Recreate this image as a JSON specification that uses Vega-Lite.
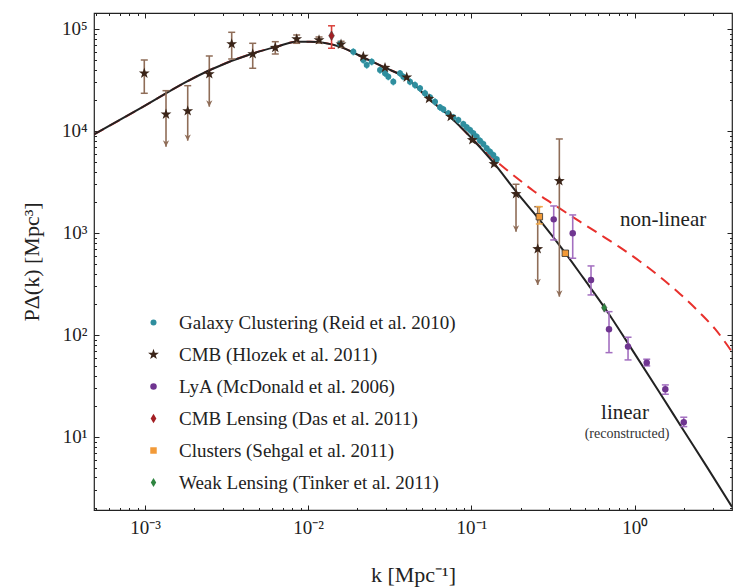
{
  "$schema": "https://vega.github.io/schema/vega-lite/v6.json",
  "width": 638,
  "height": 497,
  "autosize": {"type": "none"},
  "padding": {"left": 94, "top": 13, "right": 4, "bottom": 77},
  "background": "white",
  "config": {
    "view": {"stroke": "#222", "strokeWidth": 1.2},
    "axis": {"grid": false, "domain": false, "labelFont": "Liberation Serif", "labelFontSize": 19, "labelColor": "#222", "tickColor": "#222", "tickWidth": 1, "titleFont": "Liberation Serif", "titleFontWeight": "normal", "titleColor": "#222", "titleFontSize": 22}
  },
  "resolve": {"axis": {"x": "independent", "y": "independent"}},
  "datasets": {
    "linear": [
      {"k": 0.000487, "P": 9250}, {"k": 0.000976, "P": 17300}, {"k": 0.0018, "P": 30440}, {"k": 0.0025, "P": 39630},
      {"k": 0.00461, "P": 57800}, {"k": 0.00641, "P": 67070}, {"k": 0.0085, "P": 75080}, {"k": 0.01026, "P": 75080},
      {"k": 0.01237, "P": 73400}, {"k": 0.01566, "P": 67070}, {"k": 0.02176, "P": 52560}, {"k": 0.02955, "P": 41750},
      {"k": 0.04015, "P": 32860}, {"k": 0.05443, "P": 20920}, {"k": 0.07393, "P": 13810}, {"k": 0.1004, "P": 8480},
      {"k": 0.1362, "P": 4911}, {"k": 0.1895, "P": 2500}, {"k": 0.2632, "P": 1329}, {"k": 0.3746, "P": 641},
      {"k": 0.485, "P": 362}, {"k": 0.6585, "P": 182.7}, {"k": 0.982, "P": 68.6}, {"k": 1.431, "P": 26.8},
      {"k": 1.988, "P": 11.71}, {"k": 2.766, "P": 5.11}, {"k": 3.953, "P": 2.06}
    ],
    "nonlinear": [
      {"k": 0.000487, "P": 9250}, {"k": 0.000976, "P": 17300}, {"k": 0.0018, "P": 30440}, {"k": 0.0025, "P": 39630},
      {"k": 0.00461, "P": 57800}, {"k": 0.00641, "P": 67070}, {"k": 0.0085, "P": 75080}, {"k": 0.01026, "P": 75080},
      {"k": 0.01237, "P": 73400}, {"k": 0.01566, "P": 67070}, {"k": 0.02176, "P": 52560}, {"k": 0.02955, "P": 41750},
      {"k": 0.04015, "P": 32860}, {"k": 0.05443, "P": 20920}, {"k": 0.07393, "P": 13810}, {"k": 0.1004, "P": 8480},
      {"k": 0.1246, "P": 6045}, {"k": 0.1724, "P": 3918}, {"k": 0.2384, "P": 2611}, {"k": 0.3346, "P": 1810},
      {"k": 0.4627, "P": 1290}, {"k": 0.6138, "P": 966.7}, {"k": 0.8137, "P": 720.9}, {"k": 1.079, "P": 525.5},
      {"k": 1.431, "P": 370.3}, {"k": 1.897, "P": 252.4}, {"k": 2.516, "P": 164.3}, {"k": 3.109, "P": 114.5},
      {"k": 3.953, "P": 68.1}
    ],
    "pts": [
      {"series": "Galaxy Clustering (Reid et al. 2010)", "k": 0.01566, "P": 71290, "lo": 65600, "hi": 77000},
      {"series": "Galaxy Clustering (Reid et al. 2010)", "k": 0.0189, "P": 59930, "lo": 55100, "hi": 64700},
      {"series": "Galaxy Clustering (Reid et al. 2010)", "k": 0.02176, "P": 49660, "lo": 45700, "hi": 53600},
      {"series": "Galaxy Clustering (Reid et al. 2010)", "k": 0.02283, "P": 44360, "lo": 40800, "hi": 47900},
      {"series": "Galaxy Clustering (Reid et al. 2010)", "k": 0.02449, "P": 47800, "lo": 44000, "hi": 51600},
      {"series": "Galaxy Clustering (Reid et al. 2010)", "k": 0.02754, "P": 39630, "lo": 36500, "hi": 42800},
      {"series": "Galaxy Clustering (Reid et al. 2010)", "k": 0.02955, "P": 36790, "lo": 33800, "hi": 39700},
      {"series": "Galaxy Clustering (Reid et al. 2010)", "k": 0.03096, "P": 34080, "lo": 31400, "hi": 36800},
      {"series": "Galaxy Clustering (Reid et al. 2010)", "k": 0.03322, "P": 30440, "lo": 28000, "hi": 32900},
      {"series": "Galaxy Clustering (Reid et al. 2010)", "k": 0.03651, "P": 36790, "lo": 33800, "hi": 39700},
      {"series": "Galaxy Clustering (Reid et al. 2010)", "k": 0.03825, "P": 34080, "lo": 31400, "hi": 36800},
      {"series": "Galaxy Clustering (Reid et al. 2010)", "k": 0.04205, "P": 30440, "lo": 28000, "hi": 32900},
      {"series": "Galaxy Clustering (Reid et al. 2010)", "k": 0.04512, "P": 28250, "lo": 26000, "hi": 30500},
      {"series": "Galaxy Clustering (Reid et al. 2010)", "k": 0.04842, "P": 26220, "lo": 24100, "hi": 28300},
      {"series": "Galaxy Clustering (Reid et al. 2010)", "k": 0.05196, "P": 23420, "lo": 21500, "hi": 25300},
      {"series": "Galaxy Clustering (Reid et al. 2010)", "k": 0.05577, "P": 21400, "lo": 19700, "hi": 23100},
      {"series": "Galaxy Clustering (Reid et al. 2010)", "k": 0.05984, "P": 19380, "lo": 17800, "hi": 20900},
      {"series": "Galaxy Clustering (Reid et al. 2010)", "k": 0.06422, "P": 17080, "lo": 15700, "hi": 18400},
      {"series": "Galaxy Clustering (Reid et al. 2010)", "k": 0.06727, "P": 16320, "lo": 15000, "hi": 17600},
      {"series": "Galaxy Clustering (Reid et al. 2010)", "k": 0.07217, "P": 14910, "lo": 13700, "hi": 16100},
      {"series": "Galaxy Clustering (Reid et al. 2010)", "k": 0.07745, "P": 13620, "lo": 12500, "hi": 14700},
      {"series": "Galaxy Clustering (Reid et al. 2010)", "k": 0.08312, "P": 12820, "lo": 11800, "hi": 13800},
      {"series": "Galaxy Clustering (Reid et al. 2010)", "k": 0.0892, "P": 11710, "lo": 10800, "hi": 12600},
      {"series": "Galaxy Clustering (Reid et al. 2010)", "k": 0.09359, "P": 10870, "lo": 10000, "hi": 11700},
      {"series": "Galaxy Clustering (Reid et al. 2010)", "k": 0.09804, "P": 10230, "lo": 9410, "hi": 11000},
      {"series": "Galaxy Clustering (Reid et al. 2010)", "k": 0.1027, "P": 9495, "lo": 8740, "hi": 10250},
      {"series": "Galaxy Clustering (Reid et al. 2010)", "k": 0.1078, "P": 8793, "lo": 8090, "hi": 9500},
      {"series": "Galaxy Clustering (Reid et al. 2010)", "k": 0.1129, "P": 8032, "lo": 7390, "hi": 8670},
      {"series": "Galaxy Clustering (Reid et al. 2010)", "k": 0.1183, "P": 7456, "lo": 6860, "hi": 8050},
      {"series": "Galaxy Clustering (Reid et al. 2010)", "k": 0.1241, "P": 6767, "lo": 6230, "hi": 7310},
      {"series": "Galaxy Clustering (Reid et al. 2010)", "k": 0.13, "P": 6266, "lo": 5760, "hi": 6770},
      {"series": "Galaxy Clustering (Reid et al. 2010)", "k": 0.1362, "P": 5816, "lo": 5350, "hi": 6280},
      {"series": "Galaxy Clustering (Reid et al. 2010)", "k": 0.1429, "P": 5279, "lo": 4860, "hi": 5700},
      {"series": "CMB (Hlozek et al. 2011)", "k": 0.00099, "P": 36790, "lo": 23420, "hi": 49660, "lim": false},
      {"series": "CMB (Hlozek et al. 2011)", "k": 0.001345, "P": 14580, "lo": 7018, "hi": 24840, "lim": true},
      {"series": "CMB (Hlozek et al. 2011)", "k": 0.001827, "P": 15700, "lo": 8032, "hi": 27810, "lim": true},
      {"series": "CMB (Hlozek et al. 2011)", "k": 0.002477, "P": 36220, "lo": 17310, "hi": 54360, "lim": true},
      {"series": "CMB (Hlozek et al. 2011)", "k": 0.003398, "P": 71290, "lo": 50810, "hi": 92820, "lim": false},
      {"series": "CMB (Hlozek et al. 2011)", "k": 0.004571, "P": 56870, "lo": 41190, "hi": 72410, "lim": false},
      {"series": "CMB (Hlozek et al. 2011)", "k": 0.006285, "P": 65570, "lo": 56870, "hi": 75080, "lim": false},
      {"series": "CMB (Hlozek et al. 2011)", "k": 0.0085, "P": 79800, "lo": 72410, "hi": 87340, "lim": false},
      {"series": "CMB (Hlozek et al. 2011)", "k": 0.01165, "P": 78020, "lo": 72900, "hi": 83480, "lim": false},
      {"series": "CMB (Hlozek et al. 2011)", "k": 0.01589, "P": 70790, "lo": 66160, "hi": 75750, "lim": false},
      {"series": "CMB (Hlozek et al. 2011)", "k": 0.02176, "P": 53760},
      {"series": "CMB (Hlozek et al. 2011)", "k": 0.02955, "P": 41750},
      {"series": "CMB (Hlozek et al. 2011)", "k": 0.04015, "P": 33610},
      {"series": "CMB (Hlozek et al. 2011)", "k": 0.05497, "P": 20740},
      {"series": "CMB (Hlozek et al. 2011)", "k": 0.07466, "P": 13810},
      {"series": "CMB (Hlozek et al. 2011)", "k": 0.1013, "P": 8162},
      {"series": "CMB (Hlozek et al. 2011)", "k": 0.1375, "P": 4748},
      {"series": "CMB (Hlozek et al. 2011)", "k": 0.1876, "P": 2412, "lo": 1030, "hi": 3002, "lim": true},
      {"series": "CMB (Hlozek et al. 2011)", "k": 0.2548, "P": 696.7, "lo": 309, "hi": 1810, "lim": true},
      {"series": "CMB (Hlozek et al. 2011)", "k": 0.3457, "P": 3234, "lo": 237.4, "hi": 8348, "lim": true},
      {"series": "LyA (McDonald et al. 2006)", "k": 0.3193, "P": 1359, "lo": 854, "hi": 1839, "lim": false},
      {"series": "LyA (McDonald et al. 2006)", "k": 0.4175, "P": 993.5, "lo": 565, "hi": 1502, "lim": false},
      {"series": "LyA (McDonald et al. 2006)", "k": 0.5405, "P": 346, "lo": 246.7, "hi": 474.9, "lim": false},
      {"series": "LyA (McDonald et al. 2006)", "k": 0.6967, "P": 113.7, "lo": 67.05, "hi": 169.2, "lim": false},
      {"series": "LyA (McDonald et al. 2006)", "k": 0.9112, "P": 76.8, "lo": 56.87, "hi": 94.95, "lim": false},
      {"series": "LyA (McDonald et al. 2006)", "k": 1.186, "P": 53.5, "lo": 49.7, "hi": 57.8, "lim": false},
      {"series": "LyA (McDonald et al. 2006)", "k": 1.542, "P": 29.35, "lo": 26.22, "hi": 32.35, "lim": false},
      {"series": "LyA (McDonald et al. 2006)", "k": 2.0, "P": 13.94, "lo": 12.62, "hi": 15.6, "lim": false},
      {"series": "CMB Lensing (Das et al. 2011)", "k": 0.0139, "P": 85990, "lo": 64700, "hi": 107500, "lim": false},
      {"series": "Clusters (Sehgal et al. 2011)", "k": 0.2607, "P": 1444, "lo": 1225, "hi": 1810, "lim": false},
      {"series": "Clusters (Sehgal et al. 2011)", "k": 0.3762, "P": 632.4, "lo": 600, "hi": 665, "lim": false},
      {"series": "Weak Lensing (Tinker et al. 2011)", "k": 0.6512, "P": 185.1}
    ],
    "notes": [
      {"label": "non-linear", "k": 1.493, "P": 1340},
      {"label": "linear", "k": 0.8733, "P": 17.2},
      {"label": "(reconstructed)", "k": 0.898, "P": 10.8}
    ]
  },
  "layer": [
    {
      "data": {"name": "nonlinear"},
      "mark": {"type": "line", "color": "#e8302c", "strokeWidth": 2, "strokeDash": [11, 7], "interpolate": "monotone", "clip": true},
      "encoding": {
        "x": {"field": "k", "type": "quantitative", "scale": {"type": "log", "domain": [0.000487, 3.95], "nice": false},
          "axis": {"orient": "bottom", "values": [0.001, 0.01, 0.1, 1], "tickSize": -5, "labelPadding": 13,
            "labelExpr": "round(log(datum.value)/LN10) == -3 ? '10⁻³' : round(log(datum.value)/LN10) == -2 ? '10⁻²' : round(log(datum.value)/LN10) == -1 ? '10⁻¹' : '10⁰'",
            "title": "k [Mpc⁻¹]", "titlePadding": 27}},
        "y": {"field": "P", "type": "quantitative", "scale": {"type": "log", "domain": [1.92, 143500], "nice": false},
          "axis": {"orient": "left", "values": [10, 100, 1000, 10000, 100000], "tickSize": -5, "labelPadding": 12,
            "labelExpr": "round(log(datum.value)/LN10) == 1 ? '10¹' : round(log(datum.value)/LN10) == 2 ? '10²' : round(log(datum.value)/LN10) == 3 ? '10³' : round(log(datum.value)/LN10) == 4 ? '10⁴' : '10⁵'",
            "title": "PΔ(k) [Mpc³]", "titlePadding": 18}}
      }
    },
    {
      "data": {"name": "linear"},
      "mark": {"type": "line", "color": "#222", "strokeWidth": 2, "interpolate": "monotone", "clip": true},
      "encoding": {
        "x": {"field": "k", "type": "quantitative", "axis": {"orient": "top", "values": [0.001, 0.01, 0.1, 1], "tickSize": -5, "labels": false, "title": null}},
        "y": {"field": "P", "type": "quantitative", "axis": {"orient": "right", "values": [10, 100, 1000, 10000, 100000], "tickSize": -5, "labels": false, "title": null}}
      }
    },
    {
      "data": {"name": "pts"},
      "transform": [{"filter": "isValid(datum.lo)"}],
      "mark": {"type": "rule", "strokeWidth": 1.6},
      "encoding": {
        "x": {"field": "k", "type": "quantitative", "axis": {"orient": "bottom", "values": [0.0005, 0.0006, 0.0007, 0.0008, 0.0009, 0.002, 0.003, 0.004, 0.005, 0.006, 0.007, 0.008, 0.009, 0.02, 0.03, 0.04, 0.05, 0.06, 0.07, 0.08, 0.09, 0.2, 0.3, 0.4, 0.5, 0.6, 0.7, 0.8, 0.9, 2, 3], "tickSize": -2.5, "labels": false, "title": null}},
        "y": {"field": "lo", "type": "quantitative", "axis": {"orient": "left", "values": [2, 3, 4, 5, 6, 7, 8, 9, 20, 30, 40, 50, 60, 70, 80, 90, 200, 300, 400, 500, 600, 700, 800, 900, 2000, 3000, 4000, 5000, 6000, 7000, 8000, 9000, 20000, 30000, 40000, 50000, 60000, 70000, 80000, 90000], "tickSize": -2.5, "labels": false, "title": null}},
        "y2": {"field": "hi"},
        "stroke": {"field": "series", "type": "nominal", "legend": null,
          "scale": {"domain": ["CMB (Hlozek et al. 2011)", "CMB Lensing (Das et al. 2011)", "Clusters (Sehgal et al. 2011)", "Galaxy Clustering (Reid et al. 2010)", "LyA (McDonald et al. 2006)", "Weak Lensing (Tinker et al. 2011)"],
            "range": ["#8f6d58", "#d9403a", "#f0a848", "#40b0bd", "#a36fc0", "#3a8a48"]}}
      }
    },
    {
      "data": {"name": "pts"},
      "transform": [{"filter": "isValid(datum.hi) && datum.series !== 'Galaxy Clustering (Reid et al. 2010)'"}],
      "mark": {"type": "point", "shape": "M-1,0L1,0", "size": 49, "filled": false, "strokeWidth": 1.5, "opacity": 1},
      "encoding": {
        "x": {"field": "k", "type": "quantitative", "axis": {"orient": "top", "values": [0.0005, 0.0006, 0.0007, 0.0008, 0.0009, 0.002, 0.003, 0.004, 0.005, 0.006, 0.007, 0.008, 0.009, 0.02, 0.03, 0.04, 0.05, 0.06, 0.07, 0.08, 0.09, 0.2, 0.3, 0.4, 0.5, 0.6, 0.7, 0.8, 0.9, 2, 3], "tickSize": -2.5, "labels": false, "title": null}},
        "y": {"field": "hi", "type": "quantitative", "axis": {"orient": "right", "values": [2, 3, 4, 5, 6, 7, 8, 9, 20, 30, 40, 50, 60, 70, 80, 90, 200, 300, 400, 500, 600, 700, 800, 900, 2000, 3000, 4000, 5000, 6000, 7000, 8000, 9000, 20000, 30000, 40000, 50000, 60000, 70000, 80000, 90000], "tickSize": -2.5, "labels": false, "title": null}},
        "stroke": {"field": "series", "type": "nominal", "legend": null}
      }
    },
    {
      "data": {"name": "pts"},
      "transform": [{"filter": "isValid(datum.lo) && datum.lim === false"}],
      "mark": {"type": "point", "shape": "M-1,0L1,0", "size": 49, "filled": false, "strokeWidth": 1.5, "opacity": 1},
      "encoding": {
        "x": {"field": "k", "type": "quantitative", "axis": null},
        "y": {"field": "lo", "type": "quantitative", "axis": null},
        "stroke": {"field": "series", "type": "nominal", "legend": null}
      }
    },
    {
      "data": {"name": "pts"},
      "transform": [{"filter": "datum.lim === true"}],
      "mark": {"type": "point", "shape": "M0,0L-0.7,-1.4L0,-1L0.7,-1.4Z", "size": 81, "filled": true, "color": "#8f6d58", "opacity": 1},
      "encoding": {
        "x": {"field": "k", "type": "quantitative", "axis": null},
        "y": {"field": "lo", "type": "quantitative", "axis": null}
      }
    },
    {
      "data": {"name": "pts"},
      "mark": {"type": "point", "filled": true, "stroke": "#333", "opacity": 1},
      "encoding": {
        "x": {"field": "k", "type": "quantitative", "axis": null},
        "y": {"field": "P", "type": "quantitative", "axis": null},
        "fill": {"field": "series", "type": "nominal",
          "scale": {"domain": ["Galaxy Clustering (Reid et al. 2010)", "CMB (Hlozek et al. 2011)", "LyA (McDonald et al. 2006)", "CMB Lensing (Das et al. 2011)", "Clusters (Sehgal et al. 2011)", "Weak Lensing (Tinker et al. 2011)"],
            "range": ["#2f8e9e", "#3a2418", "#6f3590", "#a31f24", "#f29a38", "#2e8540"]},
          "legend": {"orient": "none", "legendX": 50, "legendY": 300, "title": null, "labelFont": "Liberation Serif", "labelFontSize": 19, "labelColor": "#222", "labelLimit": 400, "rowPadding": 12, "labelOffset": 16, "symbolStrokeWidth": 0, "padding": 0, "symbolOpacity": 1}},
        "shape": {"field": "series", "type": "nominal",
          "scale": {"domain": ["Galaxy Clustering (Reid et al. 2010)", "CMB (Hlozek et al. 2011)", "LyA (McDonald et al. 2006)", "CMB Lensing (Das et al. 2011)", "Clusters (Sehgal et al. 2011)", "Weak Lensing (Tinker et al. 2011)"],
            "range": ["circle", "M0,-1L0.235,-0.324L0.951,-0.309L0.38,0.124L0.588,0.809L0,0.4L-0.588,0.809L-0.38,0.124L-0.951,-0.309L-0.235,-0.324Z", "circle", "M0,-1L0.6,0L0,1L-0.6,0Z", "square", "M0,-1L0.6,0L0,1L-0.6,0Z"]},
          "legend": {"orient": "none", "legendX": 50, "legendY": 300, "title": null, "labelFont": "Liberation Serif", "labelFontSize": 19, "labelColor": "#222", "labelLimit": 400, "rowPadding": 12, "labelOffset": 16, "symbolStrokeWidth": 0, "padding": 0, "symbolOpacity": 1}},
        "size": {"field": "series", "type": "nominal",
          "scale": {"type": "ordinal", "domain": ["Galaxy Clustering (Reid et al. 2010)", "CMB (Hlozek et al. 2011)", "LyA (McDonald et al. 2006)", "CMB Lensing (Das et al. 2011)", "Clusters (Sehgal et al. 2011)", "Weak Lensing (Tinker et al. 2011)"],
            "range": [36, 130, 42, 90, 42, 81]},
          "legend": {"orient": "none", "legendX": 50, "legendY": 300, "title": null, "labelFont": "Liberation Serif", "labelFontSize": 19, "labelColor": "#222", "labelLimit": 400, "rowPadding": 12, "labelOffset": 16, "symbolStrokeWidth": 0, "padding": 0, "symbolOpacity": 1}},
        "strokeWidth": {"field": "series", "type": "nominal", "legend": null,
          "scale": {"type": "ordinal", "domain": ["CMB (Hlozek et al. 2011)", "CMB Lensing (Das et al. 2011)", "Clusters (Sehgal et al. 2011)", "Galaxy Clustering (Reid et al. 2010)", "LyA (McDonald et al. 2006)", "Weak Lensing (Tinker et al. 2011)"],
            "range": [0, 0.5, 0.8, 0, 0, 0.5]}}
      }
    },
    {
      "data": {"name": "notes"},
      "transform": [{"filter": "datum.label !== '(reconstructed)'"}],
      "mark": {"type": "text", "font": "Liberation Serif", "fontSize": 21, "color": "#222", "align": "center", "baseline": "middle"},
      "encoding": {
        "x": {"field": "k", "type": "quantitative", "axis": null},
        "y": {"field": "P", "type": "quantitative", "axis": null},
        "text": {"field": "label"}
      }
    },
    {
      "data": {"name": "notes"},
      "transform": [{"filter": "datum.label === '(reconstructed)'"}],
      "mark": {"type": "text", "font": "Liberation Serif", "fontSize": 14, "color": "#333", "align": "center", "baseline": "middle"},
      "encoding": {
        "x": {"field": "k", "type": "quantitative", "axis": null},
        "y": {"field": "P", "type": "quantitative", "axis": null},
        "text": {"field": "label"}
      }
    }
  ]
}
